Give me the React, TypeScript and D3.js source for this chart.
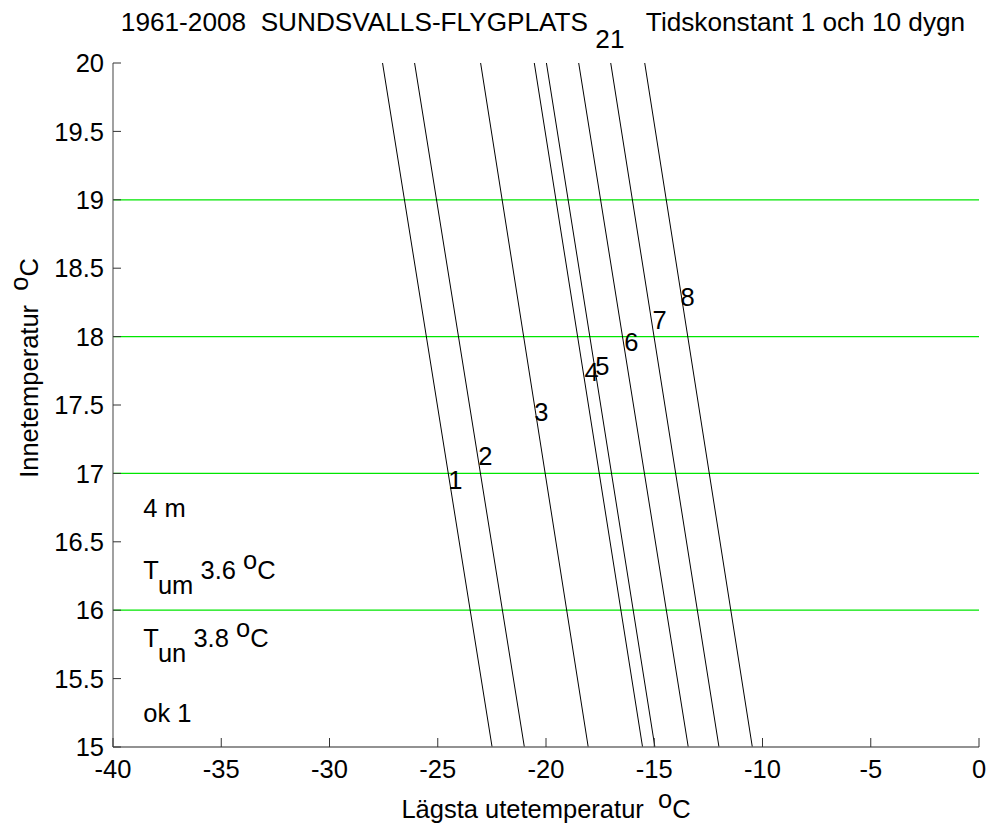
import React from "react";
import * as d3 from "d3";

// ---- data ----
const lineIds = [1, 2, 3, 4, 5, 6, 7, 8];
const yBottomVal = 15;
const yTopVal = 20;
const xAtBottom = [-22.49, -21.0, -18.05, -15.54, -14.97, -13.43, -12.01, -10.47];
const xAtTop = [-27.55, -26.07, -23.02, -20.54, -19.98, -18.49, -17.01, -15.44];
const labelX = [-24.51, -23.13, -20.54, -18.22, -17.72, -16.38, -15.08, -13.79];
const labelY = [16.95, 17.13, 17.45, 17.74, 17.79, 17.96, 18.12, 18.29];
const refLevels = [16, 17, 18, 19];
const xTicks = [-40, -35, -30, -25, -20, -15, -10, -5, 0];
const yTicks = [15, 15.5, 16, 16.5, 17, 17.5, 18, 18.5, 19, 19.5, 20];
const annotX = -38.6;
const annotY = [16.75, 16.25, 15.75, 15.25];

const W = 991;
const H = 827;
const FONT = "'Liberation Sans', Arial, Helvetica, sans-serif";
const FS = 25.5;

export default function App() {
  const x = d3.scaleLinear().domain([-40, 0]).range([113, 979]);
  const y = d3.scaleLinear().domain([15, 20]).range([747, 63]);
  const line = d3
    .line<[number, number]>()
    .x((d) => x(d[0]))
    .y((d) => y(d[1]));
  const axisColor = "#6e6e6e";
  const ax = annotX;

  return (
    <svg
      width={W}
      height={H}
      style={{ position: "absolute", left: 0, top: 0, background: "#fff" }}
      fontFamily={FONT}
      fontSize={FS}
    >
      <rect x={0} y={0} width={W} height={H} fill="#fff" />
      {/* green reference lines */}
      {refLevels.map((v) => (
        <line key={v} x1={x(-40)} x2={x(0)} y1={y(v)} y2={y(v)} stroke="#00e600" strokeWidth={1.3} />
      ))}
      {/* black lines */}
      {lineIds.map((id, i) => (
        <path
          key={id}
          d={line([
            [xAtTop[i], yTopVal],
            [xAtBottom[i], yBottomVal],
          ]) as string}
          fill="none"
          stroke="#000"
          strokeWidth={1}
        />
      ))}
      {lineIds.map((id, i) => (
        <text key={"l" + id} x={x(labelX[i])} y={y(labelY[i])} dy="0.36em" fill="#000">
          {id}
        </text>
      ))}
      {/* axes */}
      <line x1={x(-40)} x2={x(0)} y1={y(15)} y2={y(15)} stroke={axisColor} strokeWidth={1.3} />
      <line x1={x(-40)} x2={x(-40)} y1={y(15)} y2={y(20)} stroke={axisColor} strokeWidth={1.3} />
      {xTicks.map((t) => (
        <g key={"xt" + t}>
          <line x1={x(t)} x2={x(t)} y1={y(15)} y2={y(15) - 9} stroke="#333" strokeWidth={1} />
          <text x={x(t)} y={778} textAnchor="middle" fill="#000">
            {t}
          </text>
        </g>
      ))}
      {yTicks.map((t) => (
        <g key={"yt" + t}>
          <line x1={x(-40)} x2={x(-40) + 8} y1={y(t)} y2={y(t)} stroke="#333" strokeWidth={1} />
          <text x={104} y={y(t)} dy="0.36em" textAnchor="end" fill="#000">
            {t}
          </text>
        </g>
      ))}
      {/* title */}
      <text x={543} y={31} textAnchor="middle" fill="#000" fontSize={26.2} style={{ whiteSpace: "pre" }}>
        {"1961-2008  SUNDSVALLS-FLYGPLATS "}
        <tspan dy={17}>21</tspan>
        <tspan dy={-17}>{"   Tidskonstant 1 och 10 dygn"}</tspan>
      </text>
      {/* x label */}
      <text x={546} y={818} textAnchor="middle" fill="#000" style={{ whiteSpace: "pre" }}>
        {"Lägsta utetemperatur  "}
        <tspan dy={-10}>o</tspan>
        <tspan dy={10}>C</tspan>
      </text>
      {/* y label */}
      <text
        transform={`translate(38,368) rotate(-90)`}
        textAnchor="middle"
        fill="#000"
        style={{ whiteSpace: "pre" }}
      >
        {"Innetemperatur  "}
        <tspan dy={-10}>o</tspan>
        <tspan dy={10}>C</tspan>
      </text>
      {/* annotations */}
      <text x={x(ax)} y={y(annotY[0]) + 9} fill="#000">4 m</text>
      <text x={x(ax)} y={y(annotY[1]) + 3} fill="#000" style={{ whiteSpace: "pre" }}>
        T<tspan dy={15}>um</tspan>
        <tspan dy={-15}>{" 3.6 "}</tspan>
        <tspan dy={-10}>o</tspan>
        <tspan dy={10}>C</tspan>
      </text>
      <text x={x(ax)} y={y(annotY[2]) + 3} fill="#000" style={{ whiteSpace: "pre" }}>
        T<tspan dy={15}>un</tspan>
        <tspan dy={-15}>{" 3.8 "}</tspan>
        <tspan dy={-10}>o</tspan>
        <tspan dy={10}>C</tspan>
      </text>
      <text x={x(ax)} y={y(annotY[3]) + 9} fill="#000">ok 1</text>
    </svg>
  );
}
